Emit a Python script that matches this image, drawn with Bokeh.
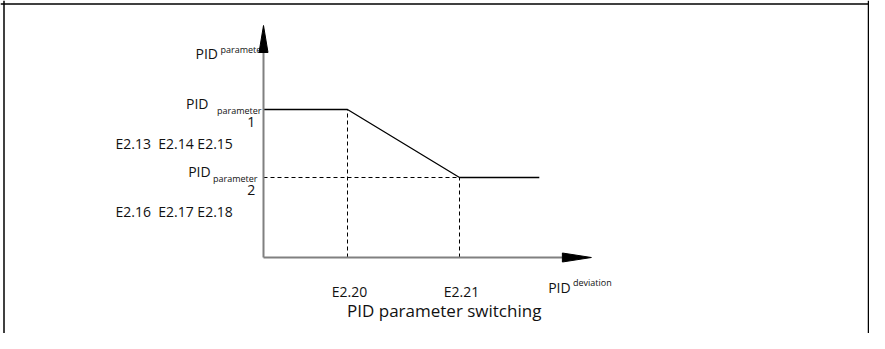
from bokeh.plotting import figure
from bokeh.models import Span
from bokeh.core.properties import value
from bokeh.embed import file_html
from bokeh.resources import INLINE

# ---------------- data (schematic units) ----------------
DEVIATION = [0, 3, 7, 9.85]          # origin, E2.20, E2.21, end of curve
PARAMETER = [3.7, 3.7, 2.0, 2.0]     # PID parameter 1 ... PID parameter 2
X_TICK_VALUES = [3, 7]
X_TICK_LABELS = ["E2.20", "E2.21"]
Y_LEVEL_VALUES = [3.7, 2.0]
Y_LEVEL_NUMBERS = ["1", "2"]
Y_LEVEL_CODES = ["E2.13\u00a0 E2.14 E2.15", "E2.16\u00a0 E2.17 E2.18"]
X_AXIS_MAX = 11.71
Y_AXIS_MAX = 5.8
TITLE = "PID parameter switching"

# ---------------- layout ----------------
W, H = 869, 333
SX, SY = 28.0, 40.0          # px per unit
OX, OY = 263, 257            # canvas px of data origin

x_start, x_end = -OX / SX, (W - OX) / SX
y_end, y_start = OY / SY, -(H - OY) / SY


def fx(px):
    return (px - OX) / SX


def fy(py):
    return (OY - py) / SY


FONT = value("Open Sans")
TXT = "#111111"

p = figure(width=W, height=H, output_backend="svg", toolbar_location=None,
           x_range=(x_start, x_end), y_range=(y_start, y_end),
           x_axis_type=None, y_axis_type=None, min_border=0,
           background_fill_color="white", border_fill_color="white")
p.outline_line_color = None
p.grid.visible = False


def txt(xs, ys, texts, size, align="left"):
    p.text(x=xs, y=ys, text=texts, text_font=FONT, text_font_size=size,
           text_align=align, text_baseline="alphabetic", text_color=TXT)


# y-axis title
txt([fx(195)], [fy(52.7)], ["PID"], "14px")
txt([fx(220)], [fy(49)], ["parameter"], "9px")

# level labels
txt([fx(185.5), fx(187.7)], [v + 6.0 / SY for v in Y_LEVEL_VALUES], ["PID", "PID"], "14px")
txt([fx(216.5), fx(212.5)], [v - 1.0 / SY for v in Y_LEVEL_VALUES], ["parameter", "parameter"], "9px")
txt([fx(250.8)] * 2, [v - 12.8 / SY for v in Y_LEVEL_VALUES], Y_LEVEL_NUMBERS, "14px", "center")
txt([fx(115)] * 2, [v - 34.0 / SY for v in Y_LEVEL_VALUES], Y_LEVEL_CODES, "14px")

# x labels
txt([v + 2 / SX for v in X_TICK_VALUES], [fy(290.7)] * 2, X_TICK_LABELS, "14px", "center")
txt([fx(547.7)], [fy(286.7)], ["PID"], "14px")
txt([fx(572.5)], [fy(282.3)], ["deviation"], "9px")
txt([fx(443.7)], [fy(310)], [TITLE], "17px", "center")

# dashed guides
p.segment(x0=X_TICK_VALUES, y0=[0, 0], x1=X_TICK_VALUES, y1=[PARAMETER[1], PARAMETER[2]],
          line_color="black", line_width=1, line_dash="4 3")
p.segment(x0=[0], y0=[PARAMETER[2]], x1=[X_TICK_VALUES[1]], y1=[PARAMETER[2]],
          line_color="black", line_width=1, line_dash="4 3")

# curve
p.line(DEVIATION, PARAMETER, line_color="black", line_width=1.3)

# axes
hl_x, hw_y = 29 / SX, 4.5 / SY
hl_y, hw_x = 27 / SY, 4.5 / SX
p.segment(x0=[0, 0], y0=[0, 0], x1=[X_AXIS_MAX - hl_x, 0], y1=[0, Y_AXIS_MAX - hl_y],
          line_color="#808080", line_width=2)
p.patches(xs=[[X_AXIS_MAX - hl_x, X_AXIS_MAX, X_AXIS_MAX - hl_x], [-hw_x, 0, hw_x]],
          ys=[[-hw_y, 0, hw_y], [Y_AXIS_MAX - hl_y, Y_AXIS_MAX, Y_AXIS_MAX - hl_y]],
          fill_color="black", line_color="black", line_width=1)

# frame border (left, top, right)
for loc, dim in [(fx(3.5), "height"), (x_end - 1 / SX, "height"), (fy(3.5), "width")]:
    p.add_layout(Span(location=loc, dimension=dim, line_color="black", line_width=1.5))

open("out.html", "w").write(file_html(p, INLINE))
